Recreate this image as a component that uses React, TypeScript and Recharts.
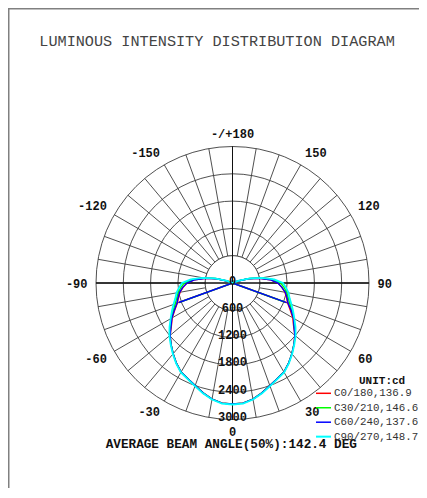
import React from 'react';
import { RadarChart, Radar, PolarGrid, PolarAngleAxis, PolarRadiusAxis } from 'recharts';

// ---------- data ----------
const title = 'LUMINOUS INTENSITY DISTRIBUTION DIAGRAM';
const beamText = 'AVERAGE BEAM ANGLE(50%):142.4 DEG';
const unitText = 'UNIT:cd';

// gamma angles (deg), 0 = straight down, positive to the right, negative to the left
const gammaAngles = [
  0, 5, 10, 15, 20, 25, 30, 35, 40, 45, 50, 55, 60, 65, 70, 75, 80, 85, 90,
  95, 100, 105, 110, 115, 120, 125, 130, 135, 140, 145, 150, 155, 160, 165, 170, 175, 180,
  -175, -170, -165, -160, -155, -150, -145, -140, -135, -130, -125, -120,
  -115, -110, -105, -100, -95, -90, -85, -80, -75, -70, -65, -60, -55, -50, -45,
  -40, -35, -30, -25, -20, -15, -10, -5,
];

// intensity (cd) per gamma angle, same order as gammaAngles
const c0Values = [
  2660, 2650, 2590, 2500, 2400, 2320, 2260, 2150, 2030, 1910, 1790, 1640, 1530, 1400, 1290, 1230, 1170, 1090, 1000,
  830, 600, 360, 130, 20, 0, 0, 0, 0, 0, 0, 0, 0, 0, 0, 0, 0, 0,
  0, 0, 0, 0, 0, 0, 0, 0, 0, 0, 0, 0,
  20, 130, 360, 600, 830, 1000, 1090, 1170, 1230, 1290, 1400, 1530, 1640, 1790, 1910,
  2030, 2150, 2260, 2320, 2400, 2500, 2590, 2650,
];
const c30Values = [
  2660, 2650, 2590, 2500, 2400, 2320, 2260, 2150, 2030, 1910, 1800, 1660, 1550, 1440, 1340, 1270, 1210, 1140, 1060,
  880, 640, 380, 140, 20, 0, 0, 0, 0, 0, 0, 0, 0, 0, 0, 0, 0, 0,
  0, 0, 0, 0, 0, 0, 0, 0, 0, 0, 0, 0,
  20, 140, 380, 640, 880, 1060, 1140, 1210, 1270, 1340, 1440, 1550, 1660, 1800, 1910,
  2030, 2150, 2260, 2320, 2400, 2500, 2590, 2650,
];
const c60Values = [
  2660, 2650, 2590, 2500, 2400, 2320, 2260, 2150, 2030, 1910, 1790, 1650, 1550, 1420, 1300, 1240, 1180, 1090, 1000,
  830, 600, 360, 130, 20, 0, 0, 0, 0, 0, 0, 0, 0, 0, 0, 0, 0, 0,
  0, 0, 0, 0, 0, 0, 0, 0, 0, 0, 0, 0,
  20, 130, 360, 600, 830, 1000, 1100, 1180, 1240, 1300, 1410, 1540, 1650, 1790, 1910,
  2030, 2150, 2260, 2320, 2400, 2500, 2590, 2650,
];
const c90Values = [
  2670, 2660, 2600, 2510, 2410, 2330, 2270, 2160, 2040, 1920, 1810, 1690, 1570, 1470, 1380, 1300, 1250, 1180, 1110,
  920, 660, 400, 150, 20, 0, 0, 0, 0, 0, 0, 0, 0, 0, 0, 0, 0, 0,
  0, 0, 0, 0, 0, 0, 0, 0, 0, 0, 0, 0,
  20, 150, 400, 660, 920, 1110, 1180, 1250, 1300, 1380, 1470, 1570, 1690, 1810, 1920,
  2040, 2160, 2270, 2330, 2410, 2510, 2600, 2660,
];

// straight return strokes to the centre (gamma, cd)
const spikeAngles = [70, -70];
const c0Spike = [1260, 1250];
const c30Spike = [1220, 1220];
const c60Spike = [1265, 1255];

const seriesNames = ['C0/180,136.9', 'C30/210,146.6', 'C60/240,137.6', 'C90/270,148.7'];
const seriesColors = ['#ff0000', '#00ff00', '#0000ff', '#00ffff'];

const radialTicks = [0, 600, 1200, 1800, 2400, 3000];
const angleTicks = [0, 30, 60, 90, 120, 150, 180, 210, 240, 270, 300, 330];
const innerRingValue = 600;
const crossAngles = [0, 90, 180, -90];

const spikeVal = (a: number, vals: number[]) => {
  const k = spikeAngles.indexOf(a);
  return k >= 0 ? vals[k] : 0;
};

const data = gammaAngles.map((a, i) => ({
  gamma: a,
  pos: (a + 360) % 360,
  disk: innerRingValue,
  cross: crossAngles.includes(a) ? radialTicks[radialTicks.length - 1] : 0,
  c0: c0Values[i],
  c30: c30Values[i],
  c60: c60Values[i],
  c90: c90Values[i],
  c0s: spikeVal(a, c0Spike),
  c30s: spikeVal(a, c30Spike),
  c60s: spikeVal(a, c60Spike),
}));

// ---------- layout ----------
const W = 419;
const H = 480;
const CX = 224.5;
const CY = 275;
const R = 136.5;
const MONO = '"Liberation Mono", "DejaVu Sans Mono", monospace';
const gridAngles = Array.from({ length: 36 }, (_, i) => -90 + 10 * i);

const angleLabel = (p: number) => (p === 180 ? '-/+180' : p > 180 ? String(p - 360) : String(p));

const AngleTick = (props: any) => {
  const { x, y, payload } = props;
  const label = angleLabel(Number(payload.value));
  const rad = (payload.coordinate * Math.PI) / 180;
  const c = Math.cos(rad);
  const s = Math.sin(rad);
  const anchor = c > 0.05 ? 'start' : c < -0.05 ? 'end' : 'middle';
  const yy = s > 0.05 ? y - 0.5 : s < -0.05 ? y + 7.5 : y + 4.5;
  return (
    <text x={x} y={yy} textAnchor={anchor} fontFamily={MONO} fontWeight="bold" fontSize={12} fill="#111">
      {label}
    </text>
  );
};

const RadiusTick = (props: any) => {
  const { x, y, payload } = props;
  return (
    <text x={x} y={y + 1.5} textAnchor="middle" fontFamily={MONO} fontWeight="bold" fontSize={12} fill="#111">
      {payload.value}
    </text>
  );
};

const seriesKeys = ['c0', 'c30', 'c60', 'c90'];
const spikeKeys = ['c0s', 'c30s', 'c60s'];

export default function App() {
  return (
    <div style={{ position: 'relative', width: W, height: H }}>
      <style>{'html, body { overflow: hidden; }'}</style>
      <RadarChart
        width={W}
        height={H}
        data={data}
        cx={CX}
        cy={CY}
        outerRadius={R}
        innerRadius={0}
        startAngle={-90}
        endAngle={270}
        margin={{ top: 0, right: 0, bottom: 0, left: 0 }}
      >
        <PolarGrid gridType="circle" polarAngles={gridAngles} stroke="#3c3c3c" strokeWidth={0.9} />
        <PolarAngleAxis
          dataKey="pos"
          type="number"
          domain={[0, 360]}
          ticks={angleTicks}
          tick={AngleTick}
          tickLine={false}
          axisLine={false}
          tickSize={8.5}
        />
        <PolarRadiusAxis
          angle={-90}
          type="number"
          domain={[0, 3000]}
          ticks={radialTicks}
          tick={RadiusTick}
          axisLine={false}
          tickLine={false}
        />
        <Radar dataKey="disk" fill="#ffffff" fillOpacity={1} stroke="#3c3c3c" strokeWidth={0.9} isAnimationActive={false} legendType="none" />
        <Radar dataKey="cross" fill="none" stroke="#111" strokeWidth={1} isAnimationActive={false} legendType="none" />
        {spikeKeys.map((k, i) => (
          <Radar key={k} dataKey={k} fill="none" stroke={seriesColors[i]} strokeWidth={1.4} isAnimationActive={false} legendType="none" />
        ))}
        {seriesKeys.map((k, i) => (
          <Radar
            key={k}
            dataKey={k}
            name={seriesNames[i]}
            fill="none"
            stroke={seriesColors[i]}
            strokeWidth={i === 3 ? 1.8 : 1.4}
            isAnimationActive={false}
          />
        ))}
      </RadarChart>
      <svg width={W} height={H} style={{ position: 'absolute', left: 0, top: 0, pointerEvents: 'none', overflow: 'visible' }}>
        <line x1={0.75} y1={0} x2={0.75} y2={H + 12} stroke="#808080" strokeWidth={1.5} />
        <line x1={0} y1={0.75} x2={W} y2={0.75} stroke="#808080" strokeWidth={1.5} />
        <text x={31.3} y={34.3} dominantBaseline="central" fontSize={15.2} fill="#444" fontFamily={MONO}>
          {title}
        </text>
        <text x={97.7} y={436.3} dominantBaseline="central" fontSize={12.7} fontWeight="bold" fill="#111" fontFamily={MONO}>
          {beamText}
        </text>
        <text x={351} y={372.7} dominantBaseline="central" fontSize={11} fontWeight="bold" fill="#111" fontFamily={MONO}>
          {unitText}
        </text>
        {seriesNames.map((n, i) => {
          const yy = 385.3 + 14.45 * i;
          return (
            <g key={n}>
              <line x1={308} y1={yy} x2={323} y2={yy} stroke={seriesColors[i]} strokeWidth={i === 3 ? 2 : 1.5} />
              <text x={326} y={yy} dominantBaseline="central" fontSize={10.8} fill="#333" fontFamily={MONO}>
                {n}
              </text>
            </g>
          );
        })}
      </svg>
    </div>
  );
}
